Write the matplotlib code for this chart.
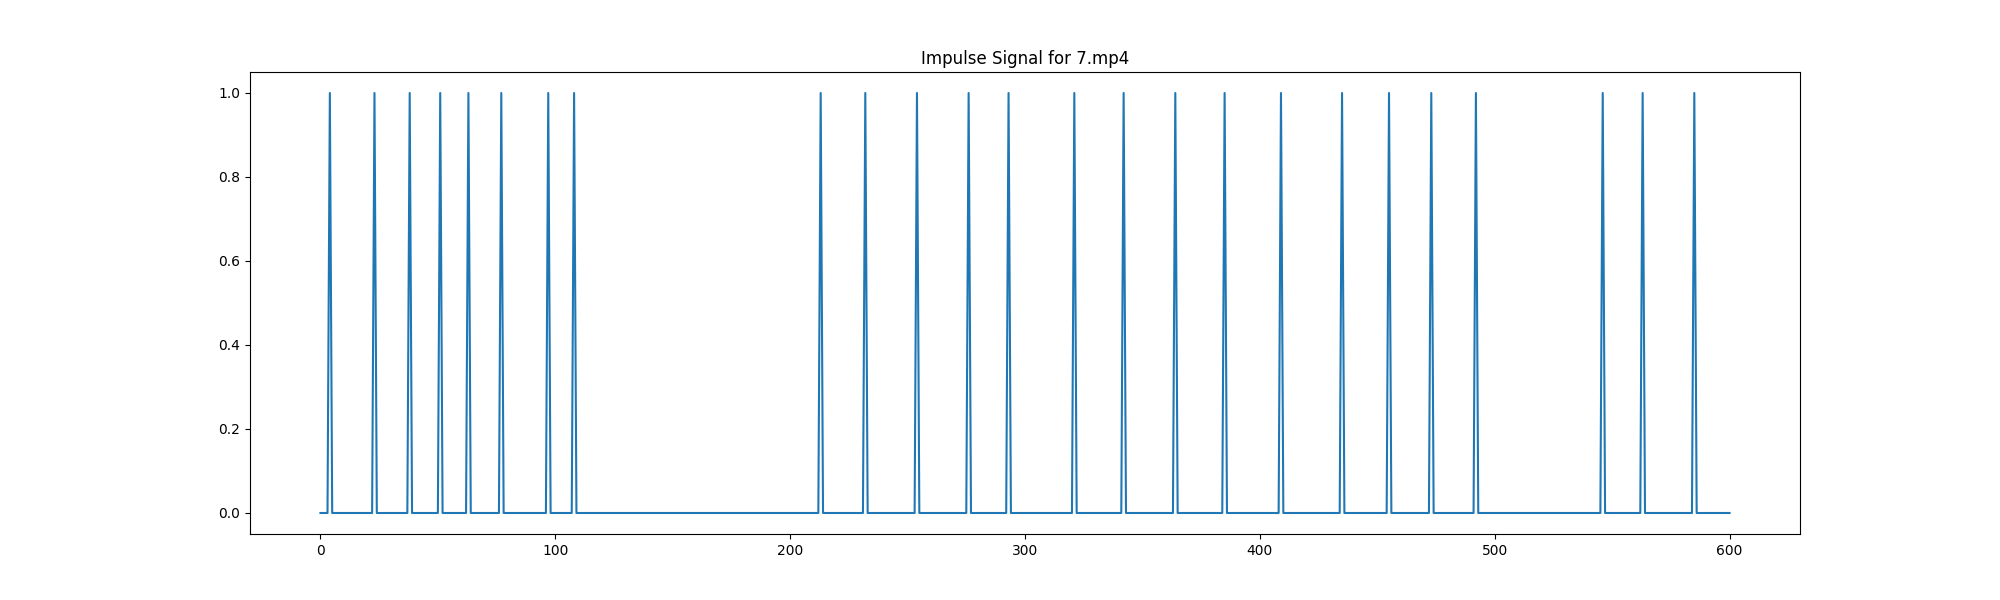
import numpy as np
import matplotlib
matplotlib.use("Agg")
import matplotlib.pyplot as plt

n_frames = 601
impulse_frames = [4, 23, 38, 51, 63, 77, 97, 108, 213, 232, 254, 276, 293,
                  321, 342, 364, 385, 409, 435, 455, 473, 492, 546, 563, 585]

signal = np.zeros(n_frames)
signal[impulse_frames] = 1.0

fig, ax = plt.subplots(figsize=(20, 6), dpi=100)
ax.plot(np.arange(n_frames), signal)
ax.set_title("Impulse Signal for 7.mp4")
fig.savefig("out.png")
